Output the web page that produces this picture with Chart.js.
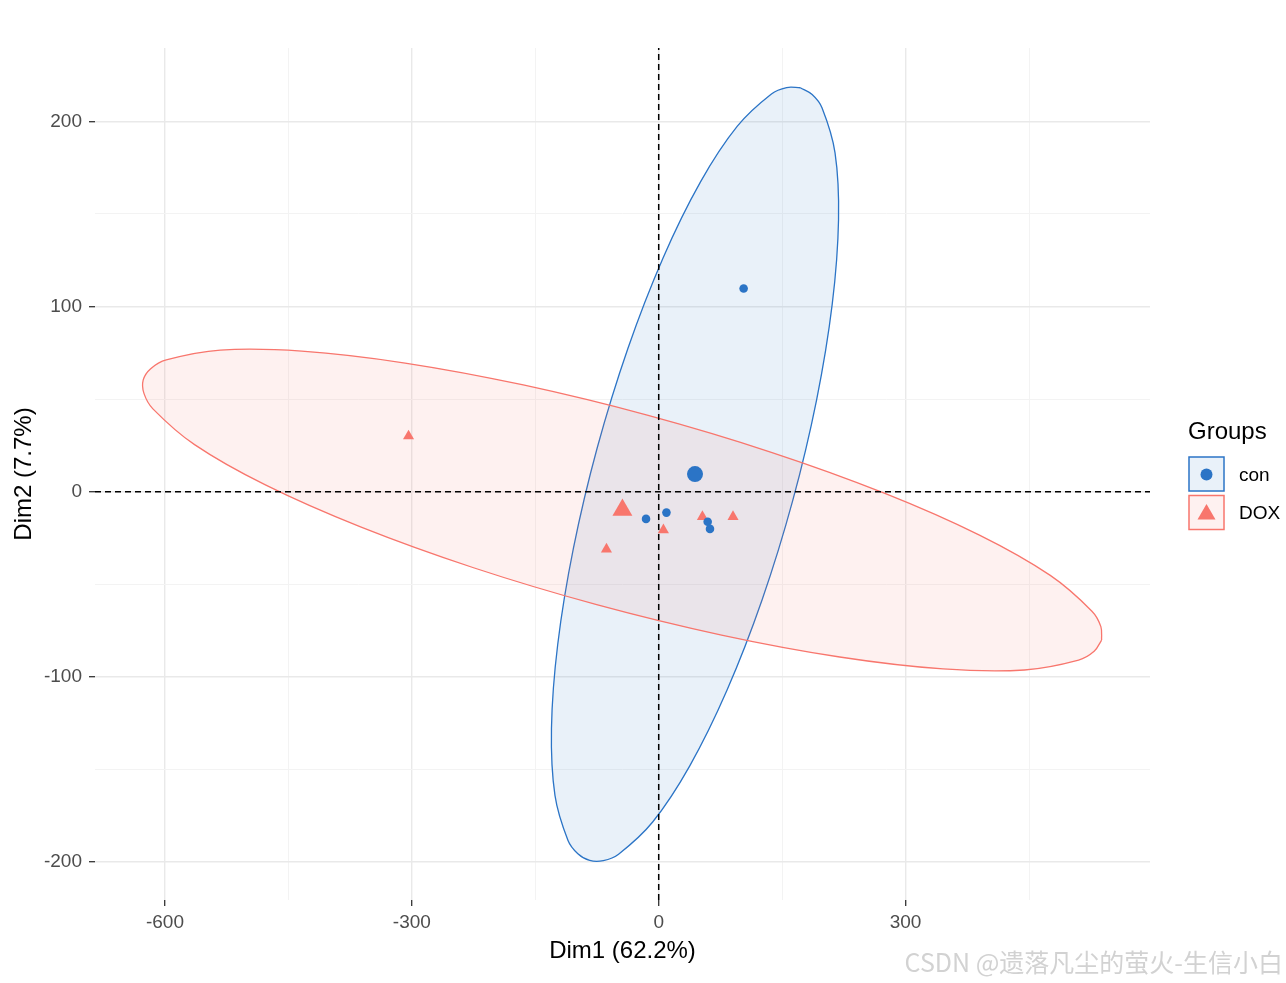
<!DOCTYPE html>
<html>
<head>
<meta charset="utf-8">
<script src="https://cdn.jsdelivr.net/npm/chart.js@4.4.0/dist/chart.umd.min.js"></script>
<style>
  html, body { margin: 0; padding: 0; background: #fff; }
  #wrap { width: 1286px; height: 983px; position: relative; }
</style>
</head>
<body>
<div id="wrap"><canvas id="pca"></canvas></div>
<script>
// individuals (Dim1, Dim2)
const conX = [103.2, -15.4, 9.4, 59.5, 62.3];
const conY = [109.7, -14.7, -11.3, -16.2, -20.1];
const doxX = [-304, -63.5, 5.7, 53.1, 90.3];
const doxY = [30.0, -31.1, -20.7, -13.5, -13.5];
const conCenter = [44.1, 9.5];
const doxCenter = [-44.1, -9.9];

// concentration ellipses, outline
const conEllX = [172.05, 186.45, 198.41, 214.27, 218.52, 210.89, 191.88, 162.82, 125.66, 82.93, 37.58, -7.35, -48.77, -67.25, -83.85, -98.25, -110.21, -126.07, -130.32, -122.69, -103.68, -74.62, -37.46, 5.27, 50.62, 95.55, 136.97, 155.45, 172.05];
const conEllY = [218.14, 214.48, 207.32, 183.01, 146.88, 101.39, 49.64, -4.85, -58.36, -107.25, -148.18, -178.37, -195.74, -199.22, -199.14, -195.48, -188.32, -164.01, -127.88, -82.39, -30.64, 23.85, 77.36, 126.25, 167.18, 197.37, 214.74, 218.22, 218.14];
const doxEllX = [538.20, 529.14, 510.24, 444.54, 345.52, 219.96, 76.39, -75.38, -225.01, -362.34, -477.96, -564.02, -614.64, -625.50, -626.40, -617.34, -598.44, -532.74, -433.72, -308.16, -164.59, -12.82, 136.81, 274.14, 389.76, 475.82, 526.44, 537.30, 538.20];
const doxEllY = [-80.16, -86.23, -90.98, -96.30, -95.71, -89.28, -77.44, -61.00, -41.08, -19.02, 3.65, 25.40, 44.74, 53.09, 60.36, 66.43, 71.18, 76.50, 75.91, 69.48, 57.64, 41.20, 21.28, -0.78, -23.45, -45.20, -64.54, -72.89, -80.16];

// axes
const xMajor = [-600, -300, 0, 300];
const xMinor = [-450, -150, 150, 450];
const yMajor = [-200, -100, 0, 100, 200];
const yMinor = [-150, -50, 50, 150];
const xRange = [-685, 597];
const yRange = [-220.5, 239.6];

const groups = ['con', 'DOX'];
const blue = '#2B74C6';
const red = '#F8766D';
const FONT = '"Liberation Sans", Arial, sans-serif';

const pts = (xs, ys) => xs.map((x, i) => ({ x: x, y: ys[i] }));

const gridOpts = (major) => ({
  color: c => major.includes(c.tick.value) ? '#e9e9e9' : '#f3f3f3',
  lineWidth: c => major.includes(c.tick.value) ? 1.4 : 1,
  tickColor: c => major.includes(c.tick.value) ? '#333333' : 'rgba(0,0,0,0)',
  tickLength: 6,
  tickWidth: 1.3
});

const legendPlugin = {
  id: 'groupsLegend',
  afterDraw(chart) {
    const ctx = chart.ctx;
    ctx.save();
    ctx.fillStyle = '#000';
    ctx.font = '24px ' + FONT;
    ctx.textAlign = 'left';
    ctx.textBaseline = 'middle';
    ctx.fillText('Groups', 1188, 432);

    // con key
    ctx.fillStyle = 'rgba(43,116,198,0.1)';
    ctx.fillRect(1189, 457, 35, 34);
    ctx.strokeStyle = blue;
    ctx.lineWidth = 1.5;
    ctx.strokeRect(1189, 457, 35, 34);
    ctx.fillStyle = blue;
    ctx.beginPath();
    ctx.arc(1206.5, 474.5, 6, 0, Math.PI * 2);
    ctx.fill();

    // DOX key
    ctx.fillStyle = 'rgba(248,118,109,0.1)';
    ctx.fillRect(1189, 495.5, 35, 34);
    ctx.strokeStyle = red;
    ctx.strokeRect(1189, 495.5, 35, 34);
    ctx.fillStyle = red;
    ctx.beginPath();
    ctx.moveTo(1206.5, 504);
    ctx.lineTo(1215.5, 519.5);
    ctx.lineTo(1197.5, 519.5);
    ctx.closePath();
    ctx.fill();

    ctx.fillStyle = '#000';
    ctx.font = '19px ' + FONT;
    ctx.fillText(groups[0], 1239, 476);
    ctx.fillText(groups[1], 1239, 514);

    // watermark
    ctx.font = '25px "Noto Sans CJK SC", sans-serif';
    ctx.textAlign = 'right';
    ctx.fillStyle = '#d2d2d2';
    ctx.fillText('CSDN @遗落凡尘的萤火-生信小白', 1283, 962);
    ctx.restore();
  }
};

new Chart(document.getElementById('pca'), {
  type: 'scatter',
  data: {
    datasets: [
      {
        label: 'vline', data: [{ x: 0, y: yRange[0] }, { x: 0, y: yRange[1] }],
        showLine: true, borderColor: '#000', borderWidth: 1.5, borderDash: [6, 4],
        pointRadius: 0, order: 0
      },
      {
        label: 'hline', data: [{ x: xRange[0], y: 0 }, { x: xRange[1], y: 0 }],
        showLine: true, borderColor: '#000', borderWidth: 1.5, borderDash: [6, 4],
        pointRadius: 0, order: 0
      },
      {
        label: 'con centre', data: [{ x: conCenter[0], y: conCenter[1] }],
        pointStyle: 'circle', pointRadius: 8, backgroundColor: blue, borderWidth: 0, order: 1
      },
      {
        label: 'DOX centre', data: [{ x: doxCenter[0], y: doxCenter[1] }],
        pointStyle: 'triangle', pointRadius: 11.5, backgroundColor: red, borderWidth: 0, order: 1
      },
      {
        label: groups[0], data: pts(conX, conY),
        pointStyle: 'circle', pointRadius: 4.3, backgroundColor: blue, borderWidth: 0, order: 1
      },
      {
        label: groups[1], data: pts(doxX, doxY),
        pointStyle: 'triangle', pointRadius: 6.4, backgroundColor: red, borderWidth: 0, order: 1
      },
      {
        label: 'DOX ellipse', data: pts(doxEllX, doxEllY),
        showLine: true, fill: 'shape', tension: 0.35,
        borderColor: red, borderWidth: 1.3, backgroundColor: 'rgba(248,118,109,0.1)',
        pointRadius: 0, order: 2
      },
      {
        label: 'con ellipse', data: pts(conEllX, conEllY),
        showLine: true, fill: 'shape', tension: 0.35,
        borderColor: blue, borderWidth: 1.3, backgroundColor: 'rgba(43,116,198,0.1)',
        pointRadius: 0, order: 3
      }
    ]
  },
  options: {
    responsive: true,
    maintainAspectRatio: false,
    animation: false,
    events: [],
    layout: { padding: { left: 0, right: 136, top: 48, bottom: 0 } },
    plugins: {
      legend: { display: false },
      tooltip: { enabled: false }
    },
    scales: {
      x: {
        type: 'linear', min: xRange[0], max: xRange[1],
        afterBuildTicks: s => { s.ticks = xMajor.concat(xMinor).sort((a, b) => a - b).map(v => ({ value: v })); },
        afterFit: s => { s.height = 83; },
        ticks: {
          autoSkip: false, maxRotation: 0, padding: 5, color: '#4d4d4d',
          font: { family: FONT, size: 19 },
          callback: v => xMajor.includes(v) ? String(v) : ''
        },
        grid: gridOpts(xMajor),
        border: { display: false },
        title: {
          display: true, text: 'Dim1 (62.2%)', color: '#000',
          font: { family: FONT, size: 24 }, padding: { top: 0, bottom: 17 }
        }
      },
      y: {
        type: 'linear', min: yRange[0], max: yRange[1],
        afterBuildTicks: s => { s.ticks = yMajor.concat(yMinor).sort((a, b) => a - b).map(v => ({ value: v })); },
        afterFit: s => { s.width = 95; },
        ticks: {
          autoSkip: false, padding: 7, color: '#4d4d4d',
          font: { family: FONT, size: 19 },
          callback: v => yMajor.includes(v) ? String(v) : ''
        },
        grid: gridOpts(yMajor),
        border: { display: false },
        title: {
          display: true, text: 'Dim2 (7.7%)', color: '#000',
          font: { family: FONT, size: 24 }, padding: { top: 10, bottom: 0 }
        }
      }
    }
  },
  plugins: [legendPlugin]
});
</script>
</body>
</html>
